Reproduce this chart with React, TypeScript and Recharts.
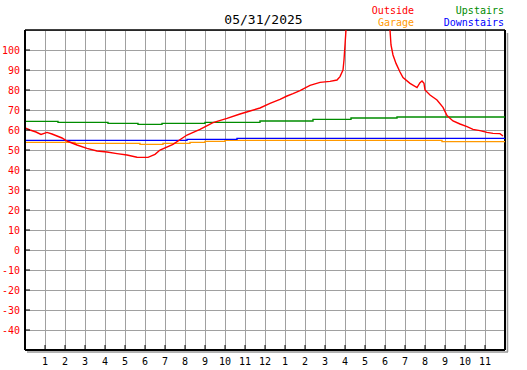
import React from "react";
import { LineChart, Line, XAxis, YAxis, CartesianGrid, ReferenceLine, Legend } from "recharts";

const title = "05/31/2025";
const hourTicks = [1, 2, 3, 4, 5, 6, 7, 8, 9, 10, 11, 12, 13, 14, 15, 16, 17, 18, 19, 20, 21, 22, 23];
const tempTicks = [-40, -30, -20, -10, 0, 10, 20, 30, 40, 50, 60, 70, 80, 90, 100];

// outside readings (hour of day, degrees)
const outsideHours = [0, 0.25, 0.55, 0.8, 1.1, 1.35, 1.6, 1.85, 2.1, 2.35, 2.6, 3.1, 3.6, 4.1, 4.6, 5.1, 5.6, 6.15, 6.5, 6.75, 7.4, 8.1, 8.75, 9.4, 10.1, 10.75, 11.25, 11.75, 12.25, 12.75, 13.1, 13.4, 13.75, 14.25, 14.75, 15.25, 15.6, 15.75, 15.9, 15.95, 16.05, 16.5, 17, 17.5, 18, 18.25, 18.3, 18.4, 18.55, 18.75, 18.9, 19.25, 19.6, 19.75, 19.85, 19.95, 20, 20.25, 20.6, 20.9, 21.1, 21.4, 21.75, 22.1, 22.4, 22.75, 23.1, 23.4, 23.75, 23.9];
const outsideTemps = [61, 60, 59, 57.8, 58.8, 58, 57, 56, 54.5, 53.5, 52.5, 50.8, 49.5, 49, 48.2, 47.5, 46.4, 46.3, 47.8, 50, 52.8, 57.5, 60.3, 63.7, 65.8, 68, 69.5, 71, 73.3, 75.3, 77, 78.2, 79.7, 82.3, 83.8, 84.3, 85, 86.7, 90, 95, 110, 125, 130, 128, 118, 110, 102.5, 97.5, 93.3, 89, 86.2, 83.3, 81.2, 83.7, 84.5, 83.3, 80, 77.5, 75, 71.3, 67.2, 64.5, 63, 61.7, 60.3, 59.7, 58.8, 58.3, 58.2, 57];

const garageHours = [0, 2.5, 5.75, 6.9, 8.25, 9, 10, 20.85, 24];
const garageTemps = [53.8, 53.3, 52.8, 53.3, 53.8, 54.3, 54.8, 54.2, 54.2];

const upstairsHours = [0, 1.65, 4.15, 5.65, 6.85, 9, 11.75, 14.4, 16.3, 18.6, 24];
const upstairsTemps = [64.3, 63.8, 63.3, 62.8, 63.3, 63.8, 64.5, 65.3, 66, 66.5, 66.5];

const downstairsHours = [0, 8.1, 10.6, 24];
const downstairsTemps = [54.8, 55.3, 55.8, 55.8];

const zip = (hs: number[], vs: number[]) => hs.map((h, i) => ({ h, v: vs[i] }));

const series = [
  { name: "Garage", color: "#ff9900", type: "stepAfter", data: zip(garageHours, garageTemps) },
  { name: "Downstairs", color: "#0000ff", type: "stepAfter", data: zip(downstairsHours, downstairsTemps) },
  { name: "Upstairs", color: "#008c00", type: "stepAfter", data: zip(upstairsHours, upstairsTemps) },
  { name: "Outside", color: "#ff0000", type: "linear", data: zip(outsideHours, outsideTemps) },
];

const mono = "'DejaVu Sans Mono', monospace";

// where each legend entry sits: right edge x, text top y
const legendSpots: Record<string, { right: number; top: number }> = {
  Outside: { right: 113, top: 5 },
  Garage: { right: 113, top: 17 },
  Upstairs: { right: 23, top: 5 },
  Downstairs: { right: 23, top: 17 },
};

const hourLabel = (h: number) => String(h % 12 === 0 ? 12 : h % 12);

const XTick = (p: any) => (
  <g>
    <line x1={p.x} x2={p.x} y1={p.y} y2={p.y - 5} stroke="#000" strokeWidth={1} />
    <text x={p.x} y={p.y + 15} textAnchor="middle" fontSize={10} fontFamily={mono} fill="#000">
      {hourLabel(p.payload.value)}
    </text>
  </g>
);

const YTick = (p: any) => (
  <g>
    <line x1={p.x} x2={p.x + 5} y1={p.y} y2={p.y} stroke="#000" strokeWidth={1} />
    <text x={p.x - 5} y={p.y} dy={3.5} textAnchor="end" fontSize={10} fontFamily={mono} fill="#ff0000">
      {p.payload.value}
    </text>
  </g>
);

const LegendBox = (props: any) => (
  <div style={{ position: "relative", width: 527, height: 0 }}>
    {(props.payload ?? []).map((e: any) => {
      const spot = legendSpots[e.value];
      if (!spot) return null;
      return (
        <span
          key={e.value}
          style={{
            position: "absolute",
            right: spot.right,
            top: spot.top,
            color: e.color,
            fontFamily: mono,
            fontSize: 10,
            lineHeight: "12px",
            whiteSpace: "nowrap",
          }}
        >
          {e.value}
        </span>
      );
    })}
  </div>
);

export default function App() {
  return (
    <div style={{ position: "absolute", left: 0, top: 0, width: 527, height: 370, background: "#fff" }}>
      <div
        style={{
          position: "absolute",
          left: 0,
          width: 527,
          top: 12,
          textAlign: "center",
          fontFamily: mono,
          fontSize: 13,
          lineHeight: "16px",
          color: "#000",
        }}
      >
        {title}
      </div>
      <LineChart width={527} height={370} margin={{ top: 30, right: 22, bottom: 0, left: 0 }}>
        <CartesianGrid stroke="#a0a0a0" strokeWidth={1} shapeRendering="crispEdges" />
        <XAxis
          type="number"
          dataKey="h"
          domain={[0, 24]}
          ticks={hourTicks}
          interval={0}
          height={20}
          tickSize={0}
          tickMargin={0}
          tickLine={false}
          tick={XTick}
          axisLine={{ stroke: "#000", strokeWidth: 2 }}
          allowDataOverflow
        />
        <YAxis
          type="number"
          domain={[-50, 110]}
          ticks={tempTicks}
          interval={0}
          width={25}
          tickSize={0}
          tickMargin={0}
          tickLine={false}
          tick={YTick}
          axisLine={{ stroke: "#000", strokeWidth: 2 }}
          allowDataOverflow
        />
        <ReferenceLine y={110} stroke="#000" strokeWidth={1.5} />
        <ReferenceLine
          x={24}
          stroke="#999"
          shape={(p: any) => (
            <line x1={p.x1 + 2.5} x2={p.x2 + 2.5} y1={p.y1 + 2} y2={p.y2 + 3} stroke="#999" strokeWidth={1.5} />
          )}
        />
        <ReferenceLine
          y={-50}
          stroke="#999"
          shape={(p: any) => (
            <line x1={p.x1 + 2} x2={p.x2 + 3} y1={p.y1 + 2} y2={p.y2 + 2} stroke="#999" strokeWidth={1.5} />
          )}
        />
        <ReferenceLine x={24} stroke="#000" strokeWidth={2} />
        <Legend content={LegendBox} wrapperStyle={{ top: 0, left: 0, width: 527, height: 0 }} />
        {series.map((s) => (
          <Line
            key={s.name}
            name={s.name}
            data={s.data}
            dataKey="v"
            type={s.type as any}
            stroke={s.color}
            strokeWidth={1.4}
            dot={false}
            activeDot={false}
            isAnimationActive={false}
          />
        ))}
      </LineChart>
    </div>
  );
}
